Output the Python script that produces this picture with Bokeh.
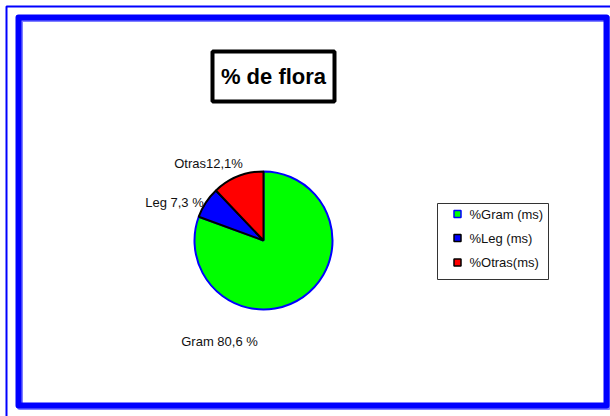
import numpy as np
from bokeh.plotting import figure
from bokeh.models import Range1d
from bokeh.core.properties import value
from bokeh.embed import file_html
from bokeh.resources import INLINE

# ---- data ----
categories = ["Gram", "Leg", "Otras"]
percentages = [80.6, 7.3, 12.1]
slice_labels = ["Gram 80,6 %", "Leg 7,3 %", "Otras12,1%"]
legend_labels = ["%Gram (ms)", "%Leg (ms)", "%Otras(ms)"]
title_text = "% de flora"

# ---- styles ----
colors = ["#00FF00", "#0000FF", "#FF0000"]
edge_colors = ["#0000FF", "#000000", "#000000"]
W, H = 610, 416
FONT = value("Liberation Sans")


def Y(sy):
    return H - sy


p = figure(width=W, height=H, output_backend="svg", toolbar_location=None,
           x_range=Range1d(0, W), y_range=Range1d(0, H), min_border=0)
p.axis.visible = False
p.grid.visible = False
p.outline_line_color = None
p.background_fill_color = "white"
p.border_fill_color = "white"

# outer thin frame (extends off-window right/bottom)
p.rect(x=[(6 + 700) / 2], y=[Y((6 + 700) / 2)], width=[694], height=[694],
       fill_alpha=0, line_color="#0000FF", line_width=2)
# inner thick frame with faint shadow
p.rect(x=[313.5], y=[Y(212.5)], width=[588], height=[388],
       fill_alpha=0, line_color="#8080FF", line_width=6, line_join="round")
p.rect(x=[312], y=[Y(211)], width=[588], height=[388],
       fill_alpha=0, line_color="#0000FF", line_width=6, line_join="round")

# title box
p.rect(x=[273], y=[Y(76)], width=[122], height=[50], fill_color="white",
       line_color="black", line_width=4)
p.text(x=[273], y=[Y(76)], text=[title_text], text_font=FONT,
       text_font_size="22px", text_font_style="bold", text_align="center",
       text_baseline="middle", text_color="black")

# pie
cx, cy, r = 263, Y(240), 69
vals = np.array(percentages, dtype=float)
frac = vals / vals.sum()
c1 = np.cumsum(frac)
c0 = c1 - frac
start = np.deg2rad(90 - 360 * c1)
end = np.deg2rad(90 - 360 * c0)
for i in range(len(categories)):
    p.wedge(x=[cx], y=[cy], radius=r, radius_units="screen",
            start_angle=[start[i]], end_angle=[end[i]], direction="anticlock",
            fill_color=colors[i], line_color=edge_colors[i], line_width=2)

# slice labels
label_pos = [(219, 341), (174, 202), (208, 163)]
for lab, (lx, ly) in zip(slice_labels, label_pos):
    p.text(x=[lx], y=[Y(ly)], text=[lab], text_font=FONT,
           text_font_size="13px", text_align="center", text_baseline="middle",
           text_color="#111111")

# legend
p.rect(x=[(437 + 548) / 2], y=[Y((203 + 279) / 2)], width=[111], height=[76],
       fill_color="white", line_color="#333333", line_width=1)
leg_y = [213.5, 237.5, 262]
for i, lab in enumerate(legend_labels):
    p.rect(x=[457], y=[Y(leg_y[i])], width=[7], height=[7],
           fill_color=colors[i], line_color=edge_colors[i], line_width=1.5)
    p.text(x=[469], y=[Y(leg_y[i])], text=[lab], text_font=FONT,
           text_font_size="13px", text_align="left", text_baseline="middle",
           text_color="#111111")

open("out.html", "w").write(file_html(p, INLINE))
